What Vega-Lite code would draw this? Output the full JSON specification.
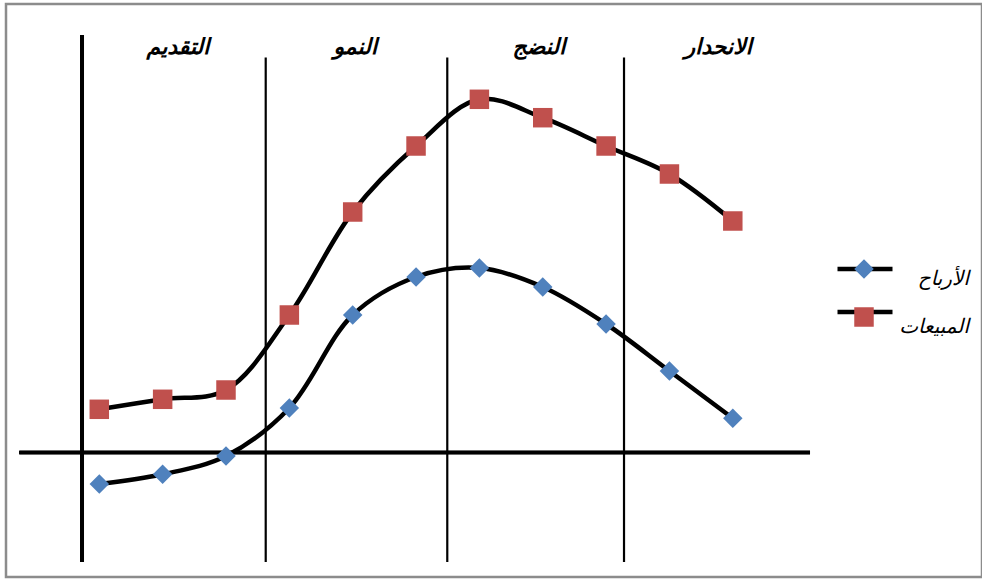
{
  "$schema": "https://vega.github.io/schema/vega-lite/v6.json",
  "width": 976,
  "height": 573,
  "autosize": {"type": "none"},
  "padding": {"left": 6, "top": 4, "right": 0, "bottom": 2},
  "background": "white",
  "config": {
    "view": {"stroke": "#8c8c8c", "strokeWidth": 2.5},
    "font": "DejaVu Sans"
  },
  "datasets": {
    "cycle": [
      {"stage": 1, "series": "الأرباح", "value": -3.15},
      {"stage": 2, "series": "الأرباح", "value": -2.18},
      {"stage": 3, "series": "الأرباح", "value": -0.35},
      {"stage": 4, "series": "الأرباح", "value": 4.45},
      {"stage": 5, "series": "الأرباح", "value": 13.75},
      {"stage": 6, "series": "الأرباح", "value": 17.55},
      {"stage": 7, "series": "الأرباح", "value": 18.45},
      {"stage": 8, "series": "الأرباح", "value": 16.55},
      {"stage": 9, "series": "الأرباح", "value": 12.85},
      {"stage": 10, "series": "الأرباح", "value": 8.15},
      {"stage": 11, "series": "الأرباح", "value": 3.42},
      {"stage": 1, "series": "المبيعات", "value": 4.32},
      {"stage": 2, "series": "المبيعات", "value": 5.32},
      {"stage": 3, "series": "المبيعات", "value": 6.25},
      {"stage": 4, "series": "المبيعات", "value": 13.75},
      {"stage": 5, "series": "المبيعات", "value": 24.05},
      {"stage": 6, "series": "المبيعات", "value": 30.65},
      {"stage": 7, "series": "المبيعات", "value": 35.32},
      {"stage": 8, "series": "المبيعات", "value": 33.48},
      {"stage": 9, "series": "المبيعات", "value": 30.65},
      {"stage": 10, "series": "المبيعات", "value": 27.85},
      {"stage": 11, "series": "المبيعات", "value": 23.15}
    ],
    "phases": [
      {"phase": "التقديم", "mid": 2.242},
      {"phase": "النمو", "mid": 5.04},
      {"phase": "النضج", "mid": 7.94},
      {"phase": "الانحدار", "mid": 10.77}
    ],
    "boundaries": [
      {"boundary": 3.627},
      {"boundary": 6.493},
      {"boundary": 9.283}
    ]
  },
  "layer": [
    {
      "data": {"name": "boundaries"},
      "mark": {"type": "rule", "color": "black", "strokeWidth": 2.2},
      "encoding": {
        "x": {"field": "boundary", "type": "quantitative", "scale": {"domain": [-0.4728, 14.934], "nice": false, "zero": false}, "axis": null},
        "y": {"datum": 39.5, "type": "quantitative", "scale": {"domain": [-12.45, 44.85], "nice": false, "zero": false}, "axis": null},
        "y2": {"datum": -10.95}
      }
    },
    {
      "data": {"name": "boundaries"},
      "mark": {"type": "rule", "color": "black", "strokeWidth": 4},
      "encoding": {
        "x": {"datum": 0.727, "type": "quantitative"},
        "y": {"datum": 41.75, "type": "quantitative"},
        "y2": {"datum": -10.95}
      }
    },
    {
      "data": {"name": "boundaries"},
      "mark": {"type": "rule", "color": "black", "strokeWidth": 3.5},
      "encoding": {
        "x": {"datum": -0.263, "type": "quantitative"},
        "x2": {"datum": 12.219},
        "y": {"datum": 0, "type": "quantitative"}
      }
    },
    {
      "data": {"name": "phases"},
      "mark": {"type": "text", "fontSize": 22, "fontWeight": "bold", "fontStyle": "italic", "color": "black", "baseline": "middle", "align": "center", "font": "DejaVu Sans"},
      "encoding": {
        "x": {"field": "mid", "type": "quantitative"},
        "y": {"datum": 40.55, "type": "quantitative"},
        "text": {"field": "phase"}
      }
    },
    {
      "data": {"name": "cycle"},
      "mark": {"type": "line", "interpolate": "catmull-rom", "strokeWidth": 4.5},
      "encoding": {
        "x": {"field": "stage", "type": "quantitative"},
        "y": {"field": "value", "type": "quantitative"},
        "stroke": {
          "field": "series", "type": "nominal",
          "scale": {"range": ["black", "black"]},
          "legend": {
            "orient": "none", "legendX": 829, "legendY": 235, "title": null,
            "symbolType": "stroke", "symbolSize": 3025, "symbolStrokeWidth": 4.5,
            "labelExpr": "''", "labelFontSize": 1, "rowPadding": 4, "padding": 0
          }
        }
      }
    },
    {
      "data": {"name": "cycle"},
      "mark": {"type": "point", "filled": true, "opacity": 1, "size": 380},
      "encoding": {
        "x": {"field": "stage", "type": "quantitative"},
        "y": {"field": "value", "type": "quantitative"},
        "fill": {
          "field": "series", "type": "nominal",
          "scale": {"domain": ["الأرباح", "المبيعات"], "range": ["#4F81BD", "#C0504D"]},
          "legend": {
            "orient": "none", "legendX": 848, "legendY": 255, "title": null,
            "symbolSize": 380, "symbolStrokeWidth": 0, "symbolOpacity": 1,
            "labelFont": "DejaVu Sans", "labelFontStyle": "italic", "labelFontSize": 20, "labelColor": "black",
            "labelAlign": "right", "labelOffset": 95, "labelBaseline": "top",
            "rowPadding": 18, "padding": 0
          }
        },
        "shape": {
          "field": "series", "type": "nominal",
          "scale": {"domain": ["الأرباح", "المبيعات"], "range": ["diamond", "square"]},
          "legend": {
            "orient": "none", "legendX": 848, "legendY": 255, "title": null,
            "symbolSize": 380, "symbolStrokeWidth": 0, "symbolOpacity": 1,
            "labelFont": "DejaVu Sans", "labelFontStyle": "italic", "labelFontSize": 20, "labelColor": "black",
            "labelAlign": "right", "labelOffset": 95, "labelBaseline": "top",
            "rowPadding": 18, "padding": 0
          }
        }
      }
    }
  ]
}
